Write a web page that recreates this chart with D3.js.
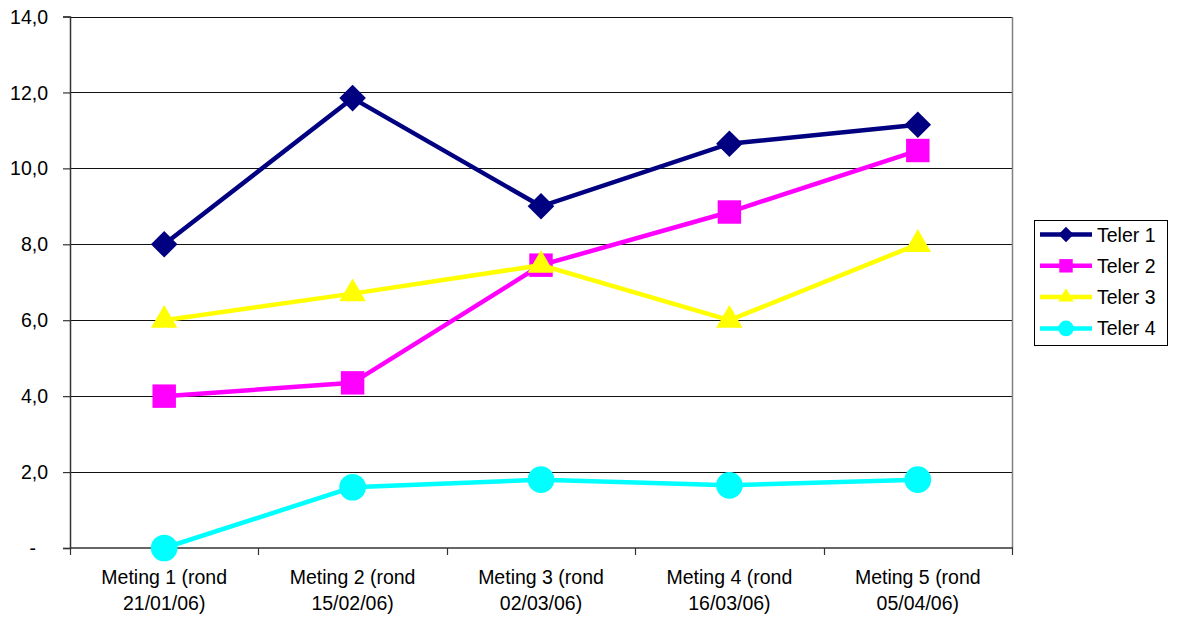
<!DOCTYPE html>
<html>
<head>
<meta charset="utf-8">
<script src="https://cdn.jsdelivr.net/npm/d3@7"></script>
<style>
  html, body { margin: 0; padding: 0; background: #fff; }
  svg { display: block; font-family: "Liberation Sans", Arial, sans-serif; }
</style>
</head>
<body>
<svg id="chart" width="1177" height="618"></svg>
<script>
// Measurement rounds (two-line labels)
const categories = [
  ["Meting 1 (rond", "21/01/06)"],
  ["Meting 2 (rond", "15/02/06)"],
  ["Meting 3 (rond", "02/03/06)"],
  ["Meting 4 (rond", "16/03/06)"],
  ["Meting 5 (rond", "05/04/06)"]
];

// Series values per counter
const teler1 = [8.0, 11.85, 9.0, 10.65, 11.15];
const teler2 = [4.0, 4.35, 7.45, 8.85, 10.47];
const teler3 = [6.0, 6.7, 7.45, 6.0, 8.0];
const teler4 = [0.0, 1.6, 1.8, 1.65, 1.8];

const seriesNames = ["Teler 1", "Teler 2", "Teler 3", "Teler 4"];
const yTicks = [0, 2, 4, 6, 8, 10, 12, 14];
const yTickLabels = ["-", "2,0", "4,0", "6,0", "8,0", "10,0", "12,0", "14,0"];

const FONT = 19.5;

const series = [
  { name: seriesNames[0], values: teler1, color: "#000080", symbol: d3.symbolDiamond2 },
  { name: seriesNames[1], values: teler2, color: "#FF00FF", symbol: d3.symbolSquare2 },
  { name: seriesNames[2], values: teler3, color: "#FFFF00", symbol: d3.symbolTriangle2 },
  { name: seriesNames[3], values: teler4, color: "#00FFFF", symbol: d3.symbolCircle }
];

const svg = d3.select("#chart");
const plot = { left: 70, right: 1012, top: 16.5, bottom: 548 };

const x = d3.scaleBand()
  .domain(d3.range(categories.length))
  .range([plot.left, plot.right]);

const y = d3.scaleLinear()
  .domain([0, 14])
  .range([plot.bottom, plot.top]);

// Horizontal gridlines
svg.append("g")
  .selectAll("line")
  .data(yTicks.filter(d => d > 0))
  .join("line")
  .attr("x1", plot.left)
  .attr("x2", plot.right)
  .attr("y1", d => Math.round(y(d)) + 0.5)
  .attr("y2", d => Math.round(y(d)) + 0.5)
  .attr("stroke", "#111")
  .attr("stroke-width", 1);

// Right edge of plot area
svg.append("line")
  .attr("x1", plot.right + 0.5).attr("x2", plot.right + 0.5)
  .attr("y1", Math.round(plot.top)).attr("y2", plot.bottom)
  .attr("stroke", "#808080").attr("stroke-width", 1.5);

// Y axis
const yAxis = d3.axisLeft(y)
  .tickValues(yTicks)
  .tickFormat((d, i) => yTickLabels[i])
  .tickSize(7)
  .tickPadding(15);

const gy = svg.append("g")
  .attr("transform", `translate(${plot.left},0)`)
  .call(yAxis);
gy.select(".domain").attr("stroke", "#333").attr("stroke-width", 1.5);
gy.selectAll(".tick line").attr("stroke", "#333").attr("stroke-width", 1.2);
gy.selectAll(".tick text")
  .attr("font-size", FONT)
  .attr("fill", "#000")
  .attr("font-family", "Liberation Sans, Arial, sans-serif")
  .attr("dy", "0.34em")
  .attr("dx", d => d === 0 ? -12 : 0);

// X axis: tick marks at category boundaries
const boundaries = d3.range(categories.length + 1).map(i =>
  i < categories.length ? x(i) : x(categories.length - 1) + x.bandwidth());
const gx = svg.append("g");
gx.append("line")
  .attr("x1", plot.left).attr("x2", plot.right + 1)
  .attr("y1", plot.bottom).attr("y2", plot.bottom)
  .attr("stroke", "#333").attr("stroke-width", 1.5);
gx.selectAll("line.tick")
  .data(boundaries)
  .join("line")
  .attr("class", "tick")
  .attr("x1", d => Math.round(d) + 0.5).attr("x2", d => Math.round(d) + 0.5)
  .attr("y1", plot.bottom).attr("y2", plot.bottom + 7)
  .attr("stroke", "#333").attr("stroke-width", 1.2);

const labels = gx.selectAll("text.cat")
  .data(categories)
  .join("text")
  .attr("class", "cat")
  .attr("text-anchor", "middle")
  .attr("font-size", FONT)
  .attr("fill", "#000");
labels.each(function(d, i) {
  const cx = x(i) + x.bandwidth() / 2;
  d3.select(this).selectAll("tspan")
    .data(d)
    .join("tspan")
    .attr("x", cx)
    .attr("y", (t, j) => 584 + j * 25.5)
    .text(t => t);
});

// Lines and markers
const line = d3.line()
  .x((d, i) => x(i) + x.bandwidth() / 2)
  .y(d => y(d));

const symbolSize = { "Teler 1": 450, "Teler 2": 700, "Teler 3": 500, "Teler 4": 560 };

series.forEach(s => {
  const g = svg.append("g");
  g.append("path")
    .datum(s.values)
    .attr("d", line)
    .attr("fill", "none")
    .attr("stroke", s.color)
    .attr("stroke-width", 4.5)
    .attr("stroke-linejoin", "miter");
  g.selectAll("path.mark")
    .data(s.values)
    .join("path")
    .attr("class", "mark")
    .attr("transform", (d, i) => `translate(${x(i) + x.bandwidth() / 2},${y(d)})`)
    .attr("d", d3.symbol().type(s.symbol).size(symbolSize[s.name]))
    .attr("fill", s.color);
});

// Legend
const legend = svg.append("g");
legend.append("rect")
  .attr("x", 1034.5).attr("y", 220.5)
  .attr("width", 133).attr("height", 125)
  .attr("fill", "#fff")
  .attr("stroke", "#000").attr("stroke-width", 1);

const legendSize = { "Teler 1": 150, "Teler 2": 230, "Teler 3": 170, "Teler 4": 190 };
series.forEach((s, i) => {
  const ly = 234.5 + i * 31.3;
  const row = legend.append("g");
  row.append("line")
    .attr("x1", 1040).attr("x2", 1092)
    .attr("y1", ly).attr("y2", ly)
    .attr("stroke", s.color).attr("stroke-width", 4.5);
  row.append("path")
    .attr("transform", `translate(1066,${ly})`)
    .attr("d", d3.symbol().type(s.symbol).size(legendSize[s.name]))
    .attr("fill", s.color);
  row.append("text")
    .attr("x", 1097).attr("y", ly)
    .attr("dy", "0.36em")
    .attr("font-size", FONT)
    .attr("fill", "#000")
    .text(s.name);
});
</script>
</body>
</html>
